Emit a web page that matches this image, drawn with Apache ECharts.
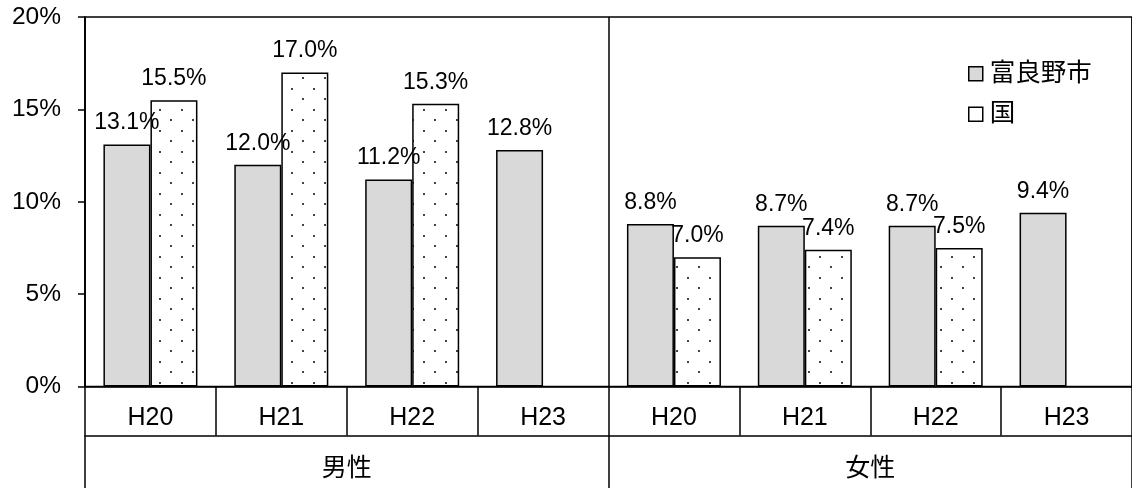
<!DOCTYPE html>
<html>
<head>
<meta charset="utf-8">
<script src="https://cdn.jsdelivr.net/npm/echarts@6/dist/echarts.min.js"></script>
<style>
html,body{margin:0;padding:0;background:#fff;}
#c{width:1132px;height:488px;}
</style>
</head>
<body>
<div id="c"></div>
<script>
const years = ['H20','H21','H22','H23','H20','H21','H22','H23'];
const groups = ['男性','女性'];
const yTicks = [0, 5, 10, 15, 20];
const furanoValues = [13.1, 12.0, 11.2, 12.8, 8.8, 8.7, 8.7, 9.4];
const nationValues = [15.5, 17.0, 15.3, null, 7.0, 7.4, 7.5, null];
const seriesNames = ['富良野市','国'];

const latin = '"Liberation Sans", Arial, sans-serif';
const cjk = '"Liberation Sans", "Noto Sans CJK JP", sans-serif';

// dotted pattern
const pc = document.createElement('canvas');
pc.width = 22; pc.height = 21;
const px = pc.getContext('2d');
px.fillStyle = '#fff';
px.fillRect(0,0,22,21);
px.fillStyle = '#444';
px.fillRect(5,4,2,2);
px.fillRect(16,14,2,2);

const chart = echarts.init(document.getElementById('c'), null, {renderer:'canvas'});
chart.setOption({
  backgroundColor:'#fff',
  animation:false,
  grid:{left:85, top:17, width:1050, bottom:101.5, show:true, borderColor:'#000', borderWidth:1.3, backgroundColor:'transparent'},
  legend:{
    orient:'vertical', left:963, top:56, itemWidth:14, itemHeight:14, itemGap:15,
    textStyle:{fontFamily:cjk, fontSize:25.5, color:'#000', padding:[0,0,0,2]},
    data:[
      {name:seriesNames[0], icon:'rect', itemStyle:{color:'#d9d9d9', borderColor:'#000', borderWidth:1.5}},
      {name:seriesNames[1], icon:'rect', itemStyle:{color:'#fff', borderColor:'#000', borderWidth:1.5}}
    ]
  },
  xAxis:[
    {type:'category', data:years, position:'bottom',
     axisLine:{show:true, lineStyle:{color:'#000', width:1.5}},
     axisTick:{show:true, interval:0, length:49, lineStyle:{color:'#000', width:1.5}},
     axisLabel:{interval:0, margin:19, fontFamily:latin, fontSize:25, color:'#000'},
     splitLine:{show:false}},
    {type:'category', data:groups, position:'bottom', offset:49,
     axisLine:{show:true, lineStyle:{color:'#000', width:1.5}},
     axisTick:{show:true, interval:0, length:54, lineStyle:{color:'#000', width:1.5}},
     axisLabel:{interval:0, margin:21, fontFamily:cjk, fontSize:25, color:'#000'},
     splitLine:{show:true, interval:0, lineStyle:{color:'#000', width:1.5}}}
  ],
  yAxis:{
    type:'value', min:yTicks[0], max:yTicks[yTicks.length-1], interval:5,
    axisLine:{show:true, lineStyle:{color:'#000', width:1.5}},
    axisTick:{show:true, length:7, lineStyle:{color:'#000', width:1.5}},
    axisLabel:{formatter:'{value}%', margin:24, fontFamily:latin, fontSize:24.5, color:'#000'},
    splitLine:{show:false}
  },
  series:[
    {name:seriesNames[0], type:'bar', xAxisIndex:0, data:furanoValues, barWidth:47, barGap:'0%',
     itemStyle:{color:'#d9d9d9', borderColor:'#000', borderWidth:1.5},
     label:{show:true, position:'top', distance:10, formatter:p=>p.value.toFixed(1)+'%', fontFamily:latin, fontSize:23, color:'#000'}},
    {name:seriesNames[1], type:'bar', xAxisIndex:0, data:nationValues, barWidth:47, barGap:'0%',
     itemStyle:{color:{image:pc, repeat:'repeat'}, borderColor:'#000', borderWidth:1.5},
     label:{show:true, position:'top', distance:10, formatter:p=>p.value==null?'':p.value.toFixed(1)+'%', fontFamily:latin, fontSize:23, color:'#000'}}
  ]
});
</script>
</body>
</html>
